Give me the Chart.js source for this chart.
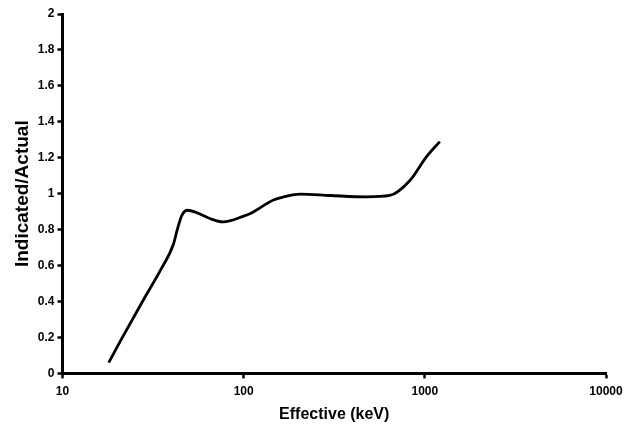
<!DOCTYPE html>
<html>
<head>
<meta charset="utf-8">
<script src="https://cdn.jsdelivr.net/npm/chart.js@4"></script>
<style>
  html, body { margin: 0; padding: 0; background: #fff; }
  #wrap { width: 631px; height: 425px; }
</style>
</head>
<body>
<div id="wrap"><canvas id="ratioChart"></canvas></div>
<script>
// energy (keV) vs indicated/actual ratio
const energies = [18, 21, 28, 35, 41, 43, 45.6, 49, 55, 65, 77, 100, 109, 146, 166, 205, 300, 480, 640, 830, 1020, 1210];
const ratios   = [0.06, 0.185, 0.41, 0.58, 0.72, 0.80, 0.88, 0.908, 0.895, 0.862, 0.843, 0.875, 0.89, 0.965, 0.982, 0.998, 0.99, 0.982, 0.99, 1.075, 1.205, 1.29];
const xTicks = [10, 100, 1000, 10000];
const yMin = 0, yMax = 2, yStep = 0.2;

const font = { family: 'Liberation Sans, Arial, sans-serif', weight: 'bold' };

document.addEventListener('DOMContentLoaded', () => {
    const el = document.getElementById('ratioChart');

    new Chart(el, {
        type: 'line',
        data: {
            datasets: [{
                data: energies.map((e, i) => ({ x: e, y: ratios[i] })),
                borderColor: '#000',
                borderWidth: 2.8,
                pointRadius: 0,
                fill: false,
                cubicInterpolationMode: 'monotone',
            }]
        },
        options: {
            responsive: true,
            maintainAspectRatio: false,
            animation: false,
            layout: { padding: { left: 0, top: 14, right: 25, bottom: 1 } },
            plugins: {
                legend: { display: false },
                tooltip: { enabled: false },
            },
            scales: {
                x: {
                    type: 'logarithmic',
                    min: 10,
                    max: 10000,
                    afterBuildTicks: (axis) => {
                        axis.ticks = xTicks.map(v => ({ value: v }));
                    },
                    ticks: {
                        color: '#000',
                        font: { ...font, size: 12 },
                        maxRotation: 0,
                        autoSkip: false,
                        padding: 6,
                        callback: (v) => String(v),
                    },
                    grid: {
                        display: true,
                        drawOnChartArea: false,
                        drawTicks: true,
                        tickLength: 5,
                        tickWidth: 2.5,
                        tickColor: '#000',
                    },
                    border: { color: '#000', width: 3 },
                    title: {
                        display: true,
                        text: 'Effective (keV)',
                        color: '#000',
                        font: { ...font, size: 16 },
                        padding: { top: 0, bottom: 0 },
                    },
                },
                y: {
                    min: yMin,
                    max: yMax,
                    ticks: {
                        stepSize: yStep,
                        color: '#000',
                        font: { ...font, size: 12 },
                        padding: 3,
                        callback: (v) => String(Math.round(v * 10) / 10),
                    },
                    grid: {
                        display: true,
                        drawOnChartArea: false,
                        drawTicks: true,
                        tickLength: 5,
                        tickWidth: 2.5,
                        tickColor: '#000',
                    },
                    border: { color: '#000', width: 3 },
                    title: {
                        display: true,
                        text: 'Indicated/Actual',
                        color: '#000',
                        font: { ...font, size: 19 },
                        padding: { top: 11, bottom: 1 },
                    },
                },
            },
        },
    });
});
</script>
</body>
</html>
